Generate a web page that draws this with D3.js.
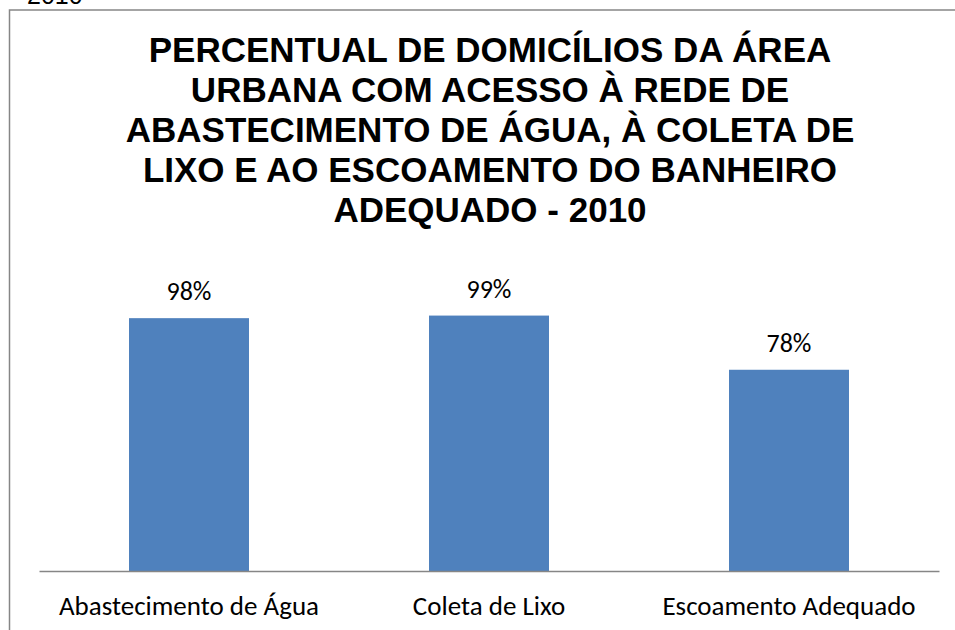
<!DOCTYPE html>
<html>
<head>
<meta charset="utf-8">
<script src="https://cdn.jsdelivr.net/npm/d3@7"></script>
<style>
  body { margin: 0; background: #fff; }
  svg { display: block; }
  .ttl { font-family: "Liberation Sans", Arial, Helvetica, sans-serif; }
  .cal { font-family: Carlito, Calibri, "Open Sans", sans-serif; }
</style>
</head>
<body>
<div id="chart"></div>
<script>
var categories = ["Abastecimento de Água", "Coleta de Lixo", "Escoamento Adequado"];
var values = [0.98, 0.99, 0.78];
var valueLabels = ["98%", "99%", "78%"];
var titleLines = [
    "PERCENTUAL DE DOMICÍLIOS DA ÁREA",
    "URBANA COM ACESSO À REDE DE",
    "ABASTECIMENTO DE ÁGUA, À COLETA DE",
    "LIXO E AO ESCOAMENTO DO BANHEIRO",
    "ADEQUADO - 2010"
];

var W = 955, H = 630;
var svg = d3.select("#chart").append("svg")
    .attr("width", W)
    .attr("height", H);

// stray year text cut off above the chart frame
svg.append("text")
    .attr("class", "ttl")
    .attr("x", 27)
    .attr("y", 4)
    .attr("font-size", 25)
    .attr("fill", "#000")
    .text("2010");

// chart frame, runs off the right and bottom edge
svg.append("rect")
    .attr("x", 9.5)
    .attr("y", 10)
    .attr("width", W + 20)
    .attr("height", H + 20)
    .attr("fill", "none")
    .attr("stroke", "#868686")
    .attr("stroke-width", 1.5);

var title = svg.append("text")
    .attr("class", "ttl")
    .attr("text-anchor", "middle")
    .attr("font-weight", "bold")
    .attr("font-size", 35)
    .attr("fill", "#000");

title.selectAll("tspan")
    .data(titleLines)
    .enter().append("tspan")
    .attr("x", 490)
    .attr("y", function (d, i) { return 62 + i * 40; })
    .text(function (d) { return d; });

var x = d3.scaleBand()
    .domain(categories)
    .range([39, 939])
    .paddingInner(0.6)
    .paddingOuter(0.3);

var y = d3.scaleLinear()
    .domain([0, 1])
    .range([571, 313]);

var rows = categories.map(function (c, i) {
    return { cat: c, value: values[i], label: valueLabels[i] };
});

svg.selectAll(".bar")
    .data(rows)
    .enter().append("rect")
    .attr("class", "bar")
    .attr("x", function (d) { return x(d.cat); })
    .attr("y", function (d) { return y(d.value); })
    .attr("width", x.bandwidth())
    .attr("height", function (d) { return y(0) - y(d.value); })
    .attr("fill", "#4f81bd");

svg.selectAll(".vlabel")
    .data(rows)
    .enter().append("text")
    .attr("class", "vlabel cal")
    .attr("x", function (d) { return x(d.cat) + x.bandwidth() / 2; })
    .attr("y", function (d) { return y(d.value) - 18; })
    .attr("text-anchor", "middle")
    .attr("font-size", 26)
    .attr("fill", "#000")
    .text(function (d) { return d.label; });

// category axis
var xAxis = svg.append("g")
    .attr("transform", "translate(0," + y(0) + ")")
    .call(d3.axisBottom(x).tickSize(0).tickPadding(25));

xAxis.attr("font-family", null);

xAxis.select(".domain")
    .attr("stroke", "#868686")
    .attr("stroke-width", 1.5);

xAxis.selectAll("text")
    .attr("class", "cal")
    .attr("font-size", 27)
    .attr("fill", "#000");
</script>
</body>
</html>
